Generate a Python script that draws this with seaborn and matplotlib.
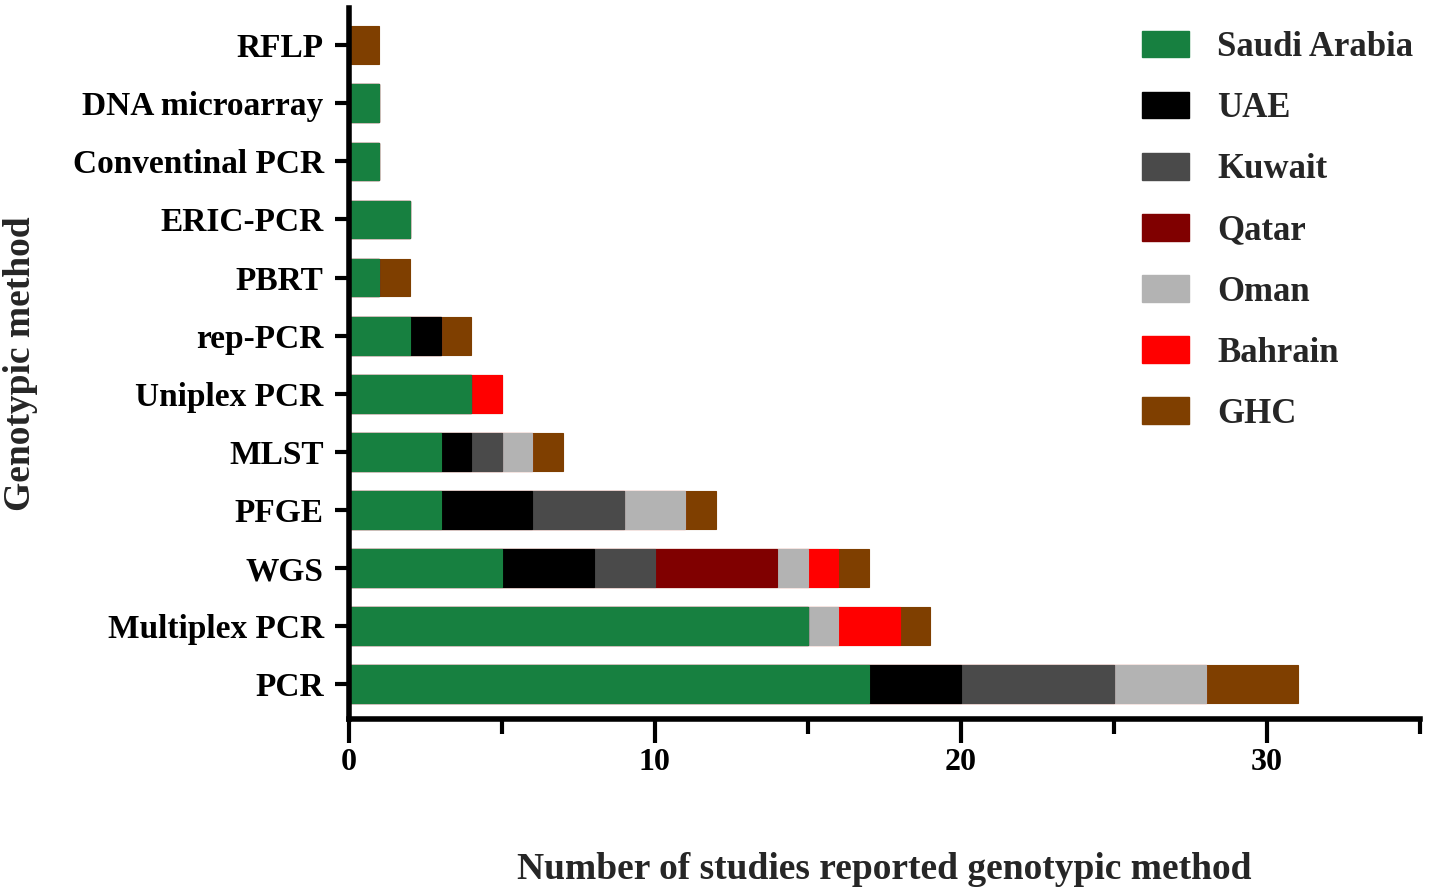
import matplotlib
matplotlib.use('Agg')
import matplotlib.pyplot as plt
import pandas as pd
import seaborn as sns
from matplotlib.patches import Patch
from matplotlib.ticker import MultipleLocator

methods = ['RFLP', 'DNA microarray', 'Conventinal PCR', 'ERIC-PCR', 'PBRT', 'rep-PCR',
           'Uniplex PCR', 'MLST', 'PFGE', 'WGS', 'Multiplex PCR', 'PCR']
countries = ['Saudi Arabia', 'UAE', 'Kuwait', 'Qatar', 'Oman', 'Bahrain', 'GHC']

saudi = [0, 1, 1, 2, 1, 2, 4, 3, 3, 5, 15, 17]
uae = [0, 0, 0, 0, 0, 1, 0, 1, 3, 3, 0, 3]
kuwait = [0, 0, 0, 0, 0, 0, 0, 1, 3, 2, 0, 5]
qatar = [0, 0, 0, 0, 0, 0, 0, 0, 0, 4, 0, 0]
oman = [0, 0, 0, 0, 0, 0, 0, 1, 2, 1, 1, 3]
bahrain = [0, 0, 0, 0, 0, 0, 1, 0, 0, 1, 2, 0]
ghc = [1, 0, 0, 0, 1, 1, 0, 1, 1, 1, 1, 3]

colors = ['#178040', '#000000', '#4a4a4a', '#800000', '#b3b3b3', '#ff0000', '#7f3f00']

df = pd.DataFrame({'method': methods, 'Saudi Arabia': saudi, 'UAE': uae, 'Kuwait': kuwait,
                   'Qatar': qatar, 'Oman': oman, 'Bahrain': bahrain, 'GHC': ghc})
cum = df[countries].cumsum(axis=1)
cum['method'] = df['method']

sns.set_style('white')
plt.rcParams['font.family'] = ['Liberation Serif', 'DejaVu Serif']
plt.rcParams['font.weight'] = 'bold'

fig = plt.figure(figsize=(14.29, 8.9), dpi=100)
ax = fig.add_axes([0.244, 0.192, 0.7497, 0.799])

# draw from the rightmost segment back so earlier countries cover the rest
for c, col in reversed(list(zip(countries, colors))):
    sns.barplot(data=cum, x=c, y='method', order=methods, color=col, orient='h',
                width=0.65, edgecolor=col, linewidth=0.8, saturation=1, ax=ax)

ax.set_xlim(0, 35)
ax.set_ylim(11.6, -0.64)
ax.xaxis.set_major_locator(MultipleLocator(10))
ax.xaxis.set_minor_locator(MultipleLocator(5))
ax.tick_params(axis='x', which='both', bottom=True, colors='black')
ax.tick_params(axis='y', left=True, colors='black')
ax.tick_params(axis='x', which='major', direction='out', length=17, width=3, labelsize=23, pad=4)
ax.tick_params(axis='x', which='minor', direction='out', length=11, width=3)
ax.tick_params(axis='y', direction='out', length=10, width=3, labelsize=24, pad=8)
for lab in ax.get_xticklabels() + ax.get_yticklabels():
    lab.set_fontweight('bold')

sns.despine(ax=ax)
for side in ['left', 'bottom']:
    ax.spines[side].set_linewidth(4)
    ax.spines[side].set_color('black')

ax.set_xlabel('Number of studies reported genotypic method', fontsize=27, fontweight='bold', labelpad=54)
ax.set_ylabel('Genotypic method', fontsize=27, fontweight='bold')
ax.yaxis.set_label_coords(-0.29, 0.5)

handles = [Patch(facecolor=col, edgecolor=col, label=c) for c, col in zip(countries, colors)]
ax.legend(handles=handles, loc='upper right', bbox_to_anchor=(1.023, 1.012), frameon=False,
          prop={'family': 'Liberation Serif', 'weight': 'bold', 'size': 25},
          handlelength=1.38, handleheight=0.8, labelspacing=0.8, handletextpad=0.8)

fig.savefig('out.png', dpi=100)
